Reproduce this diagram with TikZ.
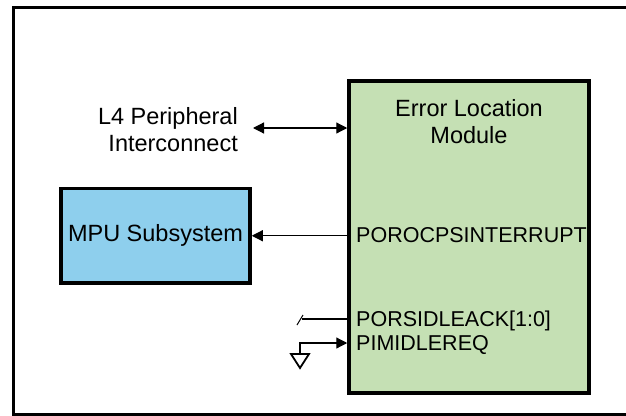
\documentclass[tikz,border=0pt]{standalone}
\usepackage{fontspec}
\setmainfont{Liberation Sans}
\usetikzlibrary{arrows.meta, positioning, calc}
\definecolor{elmgreen}{RGB}{197, 224, 180}
\definecolor{mpublue}{RGB}{142, 207, 237}

\begin{document}
\begin{tikzpicture}[x=1pt, y=-1pt,
    block/.style={draw=black, line width=3.5pt, inner sep=0pt},
    txt/.style={align=center, inner sep=0pt, font=\fontsize{23.5}{27}\selectfont},
    sig/.style={anchor=base west, inner sep=0pt, font=\fontsize{21.5}{24}\selectfont},
    wire/.style={line width=1.2pt},
    link/.style={wire, -{Triangle[length=11pt, width=11pt]}},
    dlink/.style={wire, {Triangle[length=11pt, width=11pt]}-{Triangle[length=11pt, width=11pt]}}
]
    \useasboundingbox (0,0) rectangle (626,415);
    \begin{scope}
        \clip (0,0) rectangle (626,415);
        \draw[line width=3pt] (13,7.5) rectangle (640,414.5);
    \end{scope}

    \node[block, fill=elmgreen, minimum width=240pt, minimum height=312pt] (elm) at (469,237) {};
    \node[txt] (title) at (469,121.5) {Error Location\\Module};
    \node[block, txt, fill=mpublue, minimum width=189pt, minimum height=94.5pt] (mpu) at (155.5,235.75) {MPU Subsystem};
    \node[txt, align=right, anchor=east] (l4) at (238,130) {L4 Peripheral\\Interconnect};

    \node[sig] (intr) at (356,242.5) {POROCPSINTERRUPT};
    \node[sig] (ack) at (356,326.7) {PORSIDLEACK[1:0]};
    \node[sig] (req) at (356,350) {PIMIDLEREQ};

    \coordinate (l4end) at (253,128);
    \coordinate (ackin) at (302,319);
    \coordinate (reqin) at (300,343);
    \coordinate (gnd) at (300,354);

    \draw[dlink] (l4end) -- (l4end -| elm.west);
    \draw[link] (mpu.east -| elm.west) -- (mpu.east);
    \draw[wire] (ackin) -- (ackin -| elm.west);
    \draw[line width=1pt] ($(ackin)+(-5,6)$) -- ($(ackin)+(1,-4)$);
    \draw[link] (gnd) -- (reqin) -- (reqin -| elm.west);
    \draw[line width=1.8pt] ($(gnd)+(-9,0)$) -- ($(gnd)+(9,0)$) -- ($(gnd)+(0,14)$) -- cycle;
\end{tikzpicture}
\end{document}
